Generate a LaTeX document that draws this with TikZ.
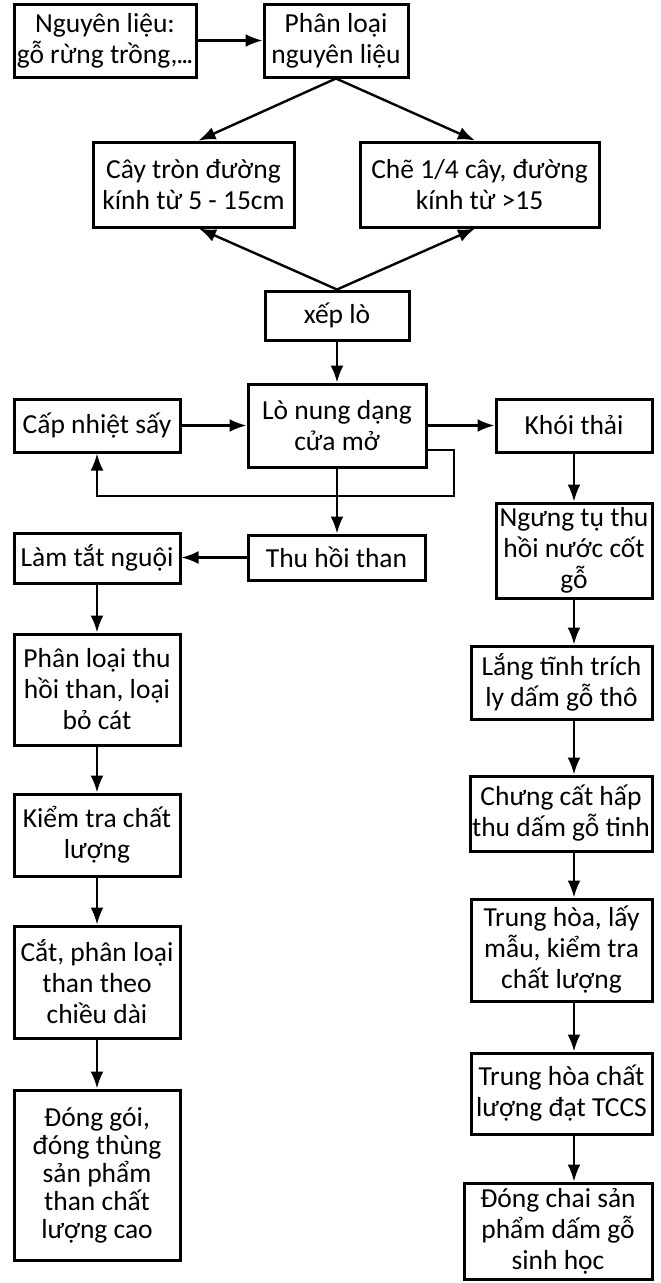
\documentclass[tikz,border=0pt]{standalone}
\usepackage{fontspec}
\setmainfont{Carlito}
\usetikzlibrary{arrows.meta}
\begin{document}
\begin{tikzpicture}[x=1pt, y=-1pt,
    box/.style={draw, line width=3pt, align=center, inner sep=0pt,
      font=\fontsize{27.5}{31}\selectfont},
    flow/.style={line width=2.4pt, -{Latex[length=17pt,width=13pt]}}]
  \useasboundingbox (0,0) rectangle (661,1283);
  % top row
  \node[box, minimum width=182pt, minimum height=73pt] (nguyen) at (105,40.5) {Nguyên liệu:\\gỗ rừng trồng,\kern-1pt.\kern-2pt.\kern-2pt.};
  \node[box, minimum width=144pt, minimum height=73pt] (phanloai) at (336,40.5) {Phân loại\\nguyên liệu};
  \node[box, minimum width=201pt, minimum height=85pt] (caytron) at (193.5,184.5) {Cây tròn đường\\kính từ 5 - 15cm};
  \node[box, minimum width=239pt, minimum height=85pt] (che) at (479.5,184.5) {Chẽ 1/4 cây, đường\\kính từ >15};
  \node[box, minimum width=144pt, minimum height=49pt] (xeplo) at (337,315.5) {xếp lò};
  % furnace row
  \node[box, minimum width=178pt, minimum height=83pt] (lonung) at (337,425.5) {Lò nung dạng\\cửa mở};
  \node[box, minimum width=166pt, minimum height=53pt] (capnhiet) at (97,425.5) {Cấp nhiệt sấy};
  \node[box, minimum width=156pt, minimum height=53pt] (khoi) at (574,425.5) {Khói thải};
  \node[box, minimum width=177pt, minimum height=45pt] (thuhoi) at (336.5,557.5) {Thu hồi than};
  % charcoal line
  \node[box, minimum width=166pt, minimum height=50pt] (lamtat) at (97,558) {Làm tắt nguội};
  \node[box, minimum width=166pt, minimum height=111pt] (phanloaithu) at (97,689.5) {Phân loại thu\\hồi than, loại\\bỏ cát};
  \node[box, minimum width=166pt, minimum height=82pt] (kiemtra) at (97,835) {Kiểm tra chất\\lượng};
  \node[box, minimum width=166pt, minimum height=112pt] (cat) at (97,982) {Cắt, phân loại\\than theo\\chiều dài};
  \node[box, minimum width=166pt, minimum height=170pt, font=\fontsize{27.5}{28}\selectfont] (donggoi) at (97,1175) {Đóng gói,\\đóng thùng\\sản phẩm\\than chất\\lượng cao};
  % vinegar line
  \node[box, minimum width=156pt, minimum height=95pt] (ngungtu) at (574,550.5) {Ngưng tụ thu\\hồi nước cốt\\gỗ};
  \node[box, minimum width=181pt, minimum height=73pt] (langtinh) at (561.5,682.5) {Lắng tĩnh trích\\ly dấm gỗ thô};
  \node[box, minimum width=182pt, minimum height=75pt] (chungcat) at (561,813.5) {Chưng cất hấp\\thu dấm gỗ tinh};
  \node[box, minimum width=181pt, minimum height=102pt] (trunghoa) at (561.5,950) {Trung hòa, lấy\\mẫu, kiểm tra\\chất lượng};
  \node[box, minimum width=181pt, minimum height=81pt] (tccs) at (561.5,1093.5) {Trung hòa chất\\lượng đạt TCCS};
  \node[box, minimum width=188pt, minimum height=96pt] (dongchai) at (558,1231) {Đóng chai sản\\phẩm dấm gỗ\\sinh học};
  % connectors
  \draw[flow] (nguyen) -- (phanloai);
  \draw[flow] (phanloai.south) -- ([xshift=5pt]caytron.north);
  \draw[flow] (phanloai.south) -- ([xshift=-4.5pt]che.north);
  \draw[flow] (xeplo.north) -- ([xshift=5.5pt]caytron.south);
  \draw[flow] (xeplo.north) -- ([xshift=-4.5pt]che.south);
  \draw[flow] (xeplo) -- (lonung);
  \draw[flow] (capnhiet) -- (lonung);
  \draw[flow] (lonung) -- (khoi);
  \draw[flow] ([yshift=-24.5pt]lonung.east) -| (454,496) -| (capnhiet.south);
  \draw[flow] (lonung.south) -- (lonung.south |- thuhoi.north);
  \draw[flow] (thuhoi.west) -- (thuhoi.west -| lamtat.east);
  \draw[flow] (lamtat) -- (phanloaithu);
  \draw[flow] (phanloaithu) -- (kiemtra);
  \draw[flow] (kiemtra) -- (cat);
  \draw[flow] (cat) -- (donggoi);
  \draw[flow] (khoi) -- (ngungtu);
  \draw[flow] (ngungtu.south) -- (ngungtu.south |- langtinh.north);
  \draw[flow] (khoi.south |- langtinh.south) -- (khoi.south |- chungcat.north);
  \draw[flow] (khoi.south |- chungcat.south) -- (khoi.south |- trunghoa.north);
  \draw[flow] (khoi.south |- trunghoa.south) -- (khoi.south |- tccs.north);
  \draw[flow] (khoi.south |- tccs.south) -- (khoi.south |- dongchai.north);
\end{tikzpicture}
\end{document}
